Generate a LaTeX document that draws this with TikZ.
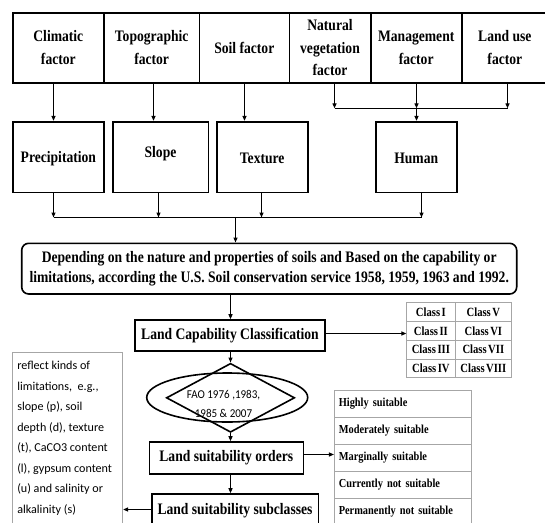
\documentclass[tikz,border=0pt]{standalone}
\usepackage{fontspec}
\setmainfont{Liberation Serif}[FakeStretch=0.85]
\newfontfamily\calib{Carlito}
\newfontfamily\calibn{Carlito}[FakeStretch=0.92]
\usetikzlibrary{arrows.meta,shapes.geometric}
\begin{document}
\begin{tikzpicture}[x=1pt,y=-1pt,
  bx/.style={draw,line width=1.6pt,inner sep=0pt,align=center,
    font=\fontsize{16}{22.5}\selectfont\bfseries},
  txt/.style={inner sep=0pt,align=center,font=\fontsize{16}{22.5}\selectfont\bfseries},
  arr/.style={line width=1.2pt,-{Triangle[length=5pt,width=4pt]}},
  ln/.style={line width=1.2pt},
  cellA/.style={draw=gray!70,line width=0.7pt,inner sep=0pt,minimum height=18.75pt,
    font=\fontsize{12.5}{14}\selectfont\bfseries},
  cellB/.style={draw=gray!70,line width=0.7pt,inner xsep=4.5pt,inner ysep=0pt,
    minimum height=26.9pt,minimum width=136.7pt,text width=127.7pt,align=left,
    font=\fontsize{12.2}{14}\selectfont\bfseries}]
\useasboundingbox (0,0) rectangle (545,522);
\clip (0,0) rectangle (545,522);
\fill[white] (0,0) rectangle (545,522);

% top row
\node[bx,minimum width=91.3pt,minimum height=70pt] (clim) at (58.35,47.7) {Climatic\\factor};
\node[bx,minimum width=95.3pt,minimum height=70pt] (topo) at (151.65,47.7) {Topographic\\factor};
\node[bx,minimum width=90pt,minimum height=70pt] (soil) at (244.3,47.7) {Soil factor};
\node[bx,minimum width=81.4pt,minimum height=70pt] (nat) at (330,47.7) {Natural\\vegetation\\factor};
\node[bx,minimum width=91pt,minimum height=70pt] (mgmt) at (416.2,47.7) {Management\\factor};
\node[bx,minimum width=86.3pt,minimum height=70pt] (land) at (504.85,47.7) {Land use\\factor};

% second row
\node[bx,minimum width=91.3pt,minimum height=70.6pt] (prec) at (58.35,157) {};
\node[txt] (prect) at ([yshift=-1.5pt]prec.center) {Precipitation};
\node[bx,minimum width=95.6pt,minimum height=70.6pt] (slope) at (160.5,157) {};
\node[txt] (slopet) at ([yshift=3.5pt]slope.center) {Slope};
\node[bx,minimum width=91pt,minimum height=70.6pt] (tex) at (262.2,157) {};
\node[txt] (text) at ([yshift=-1.5pt]tex.center) {Texture};
\node[bx,minimum width=81pt,minimum height=70.6pt] (human) at (416.2,157) {};
\node[txt] (humant) at ([yshift=-1.5pt]human.center) {Human};

% arrows top -> second row
\coordinate (busA) at (416.5,108.3);
\coordinate (t1) at (53.5,82.7);
\coordinate (t2) at (153.5,82.7);
\coordinate (t3) at (244.5,82.7);
\coordinate (t4) at (334.5,82.7);
\coordinate (t5) at (416.5,82.7);
\coordinate (t6) at (507.5,82.7);
\draw[arr] (t1 |- clim.south) -- (t1 |- prec.north);
\draw[arr] (t2 |- topo.south) -- (t2 |- slope.north);
\draw[arr] (t3 |- soil.south) -- (t3 |- tex.north);
\draw[arr] (t4 |- nat.south) -- (t4 |- busA);
\draw[arr] (t5 |- mgmt.south) -- (t5 |- busA);
\draw[arr] (t6 |- land.south) -- (t6 |- busA);
\draw[ln] (t4 |- busA) -- (t6 |- busA);
\draw[arr] (busA) -- (busA |- human.north);

% second row -> bus
\coordinate (busB) at (235.5,217.5);
\coordinate (b1) at (53.5,0);
\coordinate (b2) at (158.5,0);
\coordinate (b3) at (261.5,0);
\coordinate (b4) at (421.5,0);
\draw[arr] (b1 |- prec.south) -- (b1 |- busB);
\draw[arr] (b2 |- slope.south) -- (b2 |- busB);
\draw[arr] (b3 |- tex.south) -- (b3 |- busB);
\draw[arr] (b4 |- human.south) -- (b4 |- busB);
\draw[ln] (b1 |- busB) -- (b4 |- busB);

% depending box
\node[bx,rounded corners=7pt,minimum width=495pt,minimum height=50.7pt,
  font=\fontsize{16}{20}\selectfont\bfseries] (dep) at (269.2,268.65)
  {Depending on the nature and properties of soils and Based on the capability or\\
   limitations, according the U.S. Soil conservation service 1958, 1959, 1963 and 1992.};
\draw[arr] (busB) -- (busB |- dep.north);

% land capability classification
\node[bx,minimum width=190pt,minimum height=31pt] (lcc) at (230,335.5) {Land Capability Classification};
\coordinate (dx) at (230.5,0);
\draw[arr] (dx |- dep.south) -- (dx |- lcc.north);

% class table
\node[cellA,minimum width=48.3pt] (c11) at (430.85,312.1) {Class\hspace{1.5pt}I};
\node[cellA,minimum width=56.7pt] (c12) at (483.35,312.1) {Class\hspace{1.5pt}V};
\node[cellA,minimum width=48.3pt] (c21) at (430.85,330.85) {Class\hspace{1.5pt}II};
\node[cellA,minimum width=56.7pt] (c22) at (483.35,330.85) {Class\hspace{1.5pt}VI};
\node[cellA,minimum width=48.3pt] (c31) at (430.85,349.6) {Class\hspace{1.5pt}III};
\node[cellA,minimum width=56.7pt] (c32) at (483.35,349.6) {Class\hspace{1.5pt}VII};
\node[cellA,minimum width=48.3pt] (c41) at (430.85,368.35) {Class\hspace{1.5pt}IV};
\node[cellA,minimum width=56.7pt] (c42) at (483.35,368.35) {Class\hspace{1.5pt}VIII};
\coordinate (lccout) at (lcc.east |- 0,333.5);
\draw[arr] (lccout) -- (lccout -| c21.west);

% ellipse and diamond
\node[ellipse,draw,line width=1.6pt,minimum width=161pt,minimum height=49pt] (ell) at (227.2,397.5) {};
\node[diamond,draw,line width=1.6pt,minimum width=128.3pt,minimum height=69pt,inner sep=0pt] (dia) at (230.5,397.8) {};
\node[font=\calibn\fontsize{12}{19.3}\selectfont,align=center,inner sep=0pt] (fao) at (223.5,404) {FAO 1976 ,1983,\\1985 \& 2007};
\draw[arr] (lcc.south -| dia.north) -- (dia.north);

% land suitability orders
\node[bx,minimum width=154pt,minimum height=32pt] (lso) at (226.3,458) {Land suitability orders};
\draw[arr] (dia.south) -- (dia.south |- lso.north);

% suitability table
\node[cellB] (s1) at (402.65,404) {Highly suitable};
\node[cellB] (s2) at (402.65,430.8) {Moderately suitable};
\node[cellB] (s3) at (402.65,457.7) {Marginally suitable};
\node[cellB] (s4) at (402.65,484.6) {Currently not suitable};
\node[cellB] (s5) at (402.65,511.5) {Permanently not suitable};
\coordinate (lsoout) at (lso.east |- 0,454.5);
\draw[arr] (lsoout) -- (lsoout -| s3.west);

% land suitability subclasses
\node[bx,minimum width=166.6pt,minimum height=34pt] (lss) at (235,511) {Land suitability subclasses};
\draw[arr] (lso.south -| dia.south) -- (dia.south |- lss.north);

% left text box
\node[draw=gray!70,line width=0.8pt,minimum width=110pt,minimum height=187.7pt,inner sep=0pt] (lbox) at (67.7,446.15) {};
\node[anchor=north west,inner sep=0pt,align=left,font=\calib\fontsize{12.1}{20.5}\selectfont] (ltext)
  at ([xshift=4.8pt,yshift=-9pt]lbox.north west)
  {reflect kinds of\\limitations,\ \ e.g.,\\slope (p), soil\\depth (d), texture\\(t), CaCO3 content\\(l), gypsum content\\(u) and salinity or\\alkalinity (s)};
\coordinate (lssout) at (lss.west |- 0,509.5);
\draw[arr] (lssout) -- (lssout -| lbox.east);
\end{tikzpicture}
\end{document}
